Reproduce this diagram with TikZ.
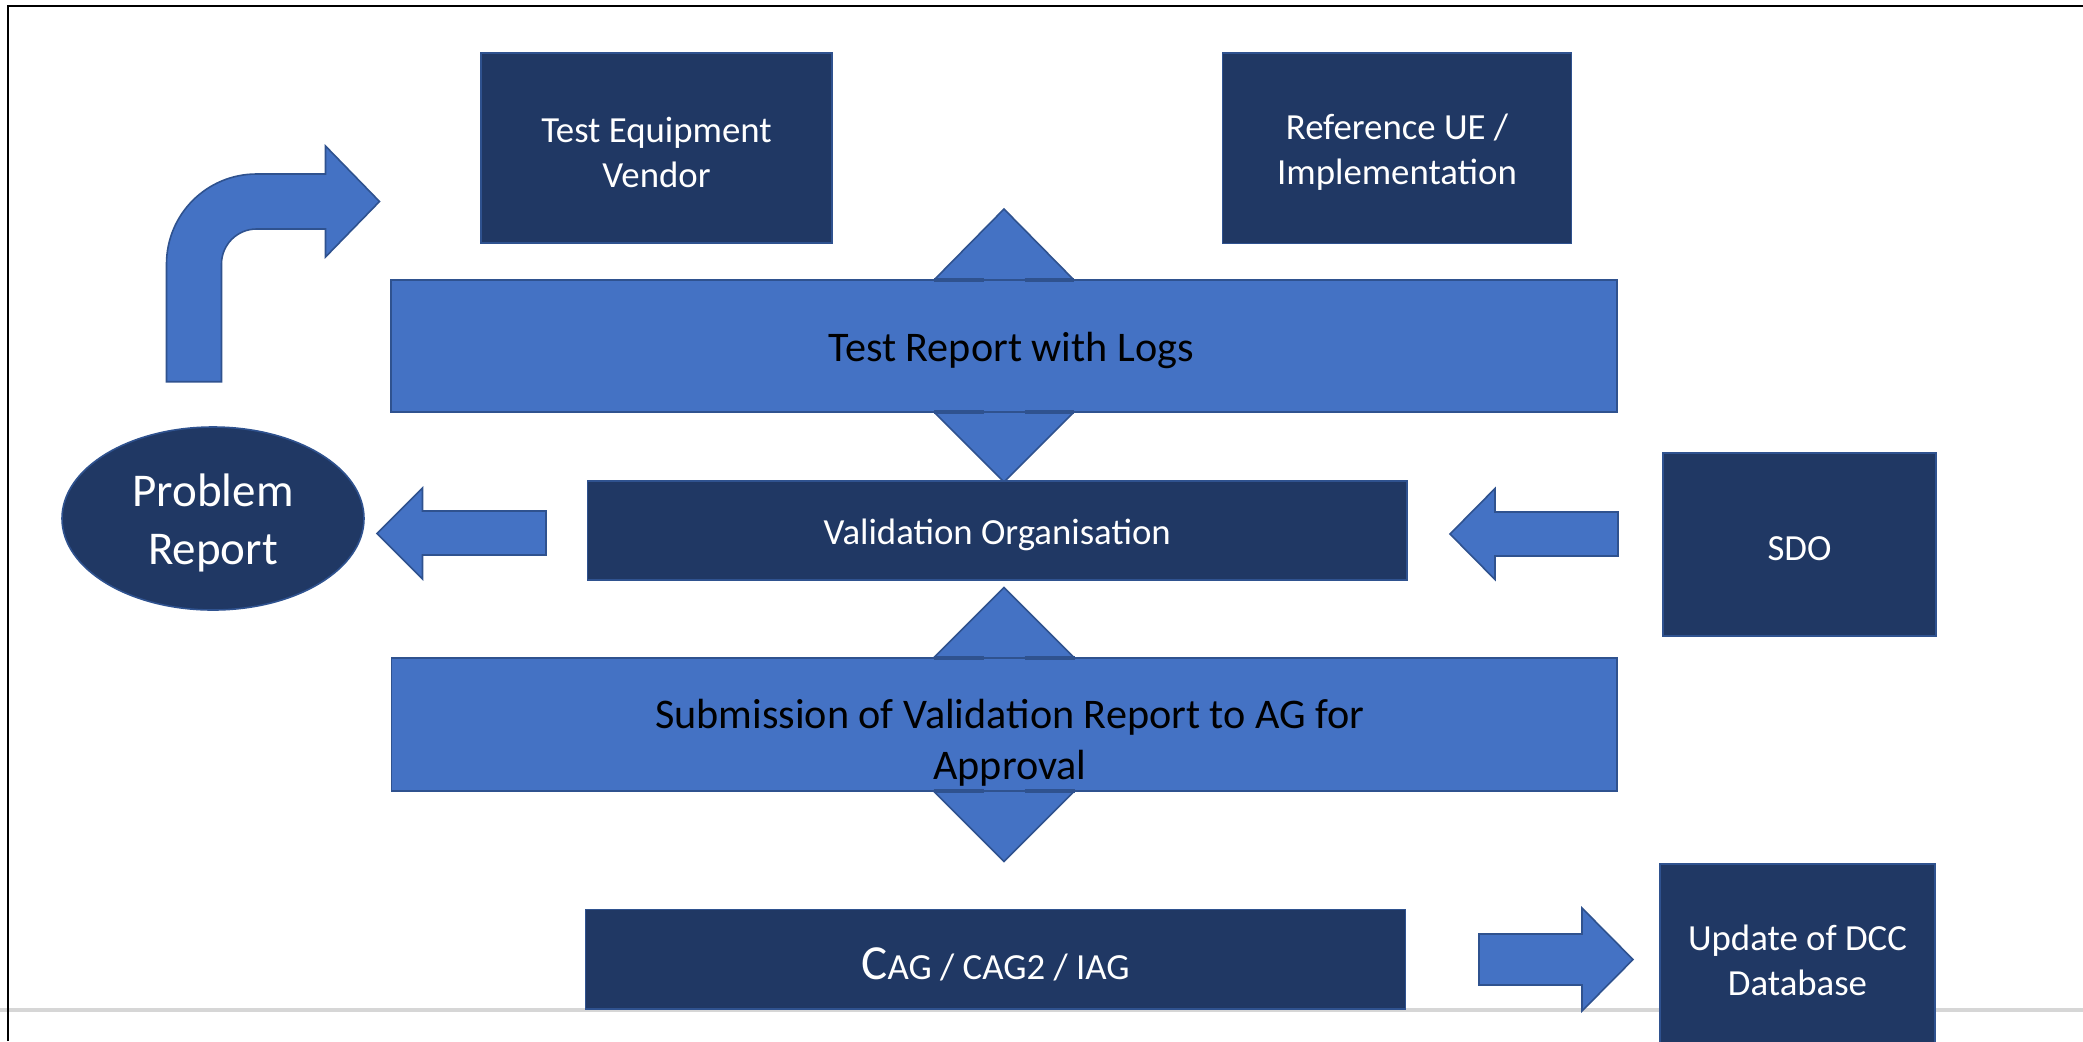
\documentclass[tikz,border=0pt]{standalone}
\usepackage{fontspec}
\setmainfont{Carlito}
\usetikzlibrary{shapes.geometric}
\definecolor{navy}{HTML}{203864}
\definecolor{blk}{HTML}{4472C4}
\definecolor{edge}{HTML}{2F528F}
\definecolor{rule}{HTML}{D6D6D6}
\begin{document}
\begin{tikzpicture}[x=0.5pt,y=-0.5pt,
  darkbox/.style={draw=edge, line width=0.8pt, fill=navy, inner sep=0pt},
  wtext/.style={text=white, inner sep=0pt, align=center, font=\fontsize{18.4}{22.5}\selectfont},
  band/.style={draw=edge, line width=0.8pt, fill=blk, inner sep=0pt},
  bandtext/.style={text=black, inner sep=0pt, align=center, font=\fontsize{21.1}{25.5}\selectfont},
  blockarrow/.style={draw=edge, line width=0.8pt, fill=blk, line join=miter},
  headedge/.style={draw=edge, line width=1.8pt}
]
\useasboundingbox (0,0) rectangle (2083,1041);
\clip (0,0) rectangle (2083,1041);
% footer rule and frame
\draw[rule, line width=2pt] (0,1010) -- (2083,1010);
\draw[black, line width=1.3pt] (8,1041) -- (8,6) -- (2083,6);

% double arrows (behind the bands)
\filldraw[blockarrow] (1004,209) -- (1074,280) -- (1024.5,280) -- (1024.5,412) -- (1074,412) -- (1004,482) -- (934,412) -- (984,412) -- (984,280) -- (934,280) -- cycle;
\filldraw[blockarrow] (1004,587.5) -- (1074.5,658) -- (1024.5,658) -- (1024.5,791) -- (1074.5,791) -- (1004,861.5) -- (933.5,791) -- (983.5,791) -- (983.5,658) -- (933.5,658) -- cycle;

% bands
\node[band, minimum width=613pt, minimum height=66pt] (band1) at (1004,346) {};
\node[band, minimum width=612.75pt, minimum height=66.5pt] (band2) at (1004.25,724.5) {};
\draw[headedge] (934,280) -- (984,280) (1024.5,280) -- (1074,280) (934,412) -- (984,412) (1024.5,412) -- (1074,412);
\draw[headedge] (933.5,658) -- (983.5,658) (1024.5,658) -- (1074.5,658) (933.5,791) -- (983.5,791) (1024.5,791) -- (1074.5,791);
\node[bandtext] (band1txt) at (1011,350) {Test Report with Logs};
\node[bandtext] (band2txt) at (1010,743) {Submission of Validation Report to AG for\\Approval};

% boxes
\node[darkbox, minimum width=175.5pt, minimum height=95pt] (tev) at (656.5,148) {};
\node[darkbox, minimum width=174.5pt, minimum height=95.25pt] (ref) at (1397,148.25) {};
\node[darkbox, minimum width=409.75pt, minimum height=49.5pt] (valid) at (997.25,530.5) {};
\node[darkbox, ellipse, minimum width=151pt, minimum height=91.5pt] (prob) at (213,518.5) {};
\node[darkbox, minimum width=136.5pt, minimum height=91.5pt] (sdo) at (1799.5,544.5) {};
\node[darkbox, minimum width=410pt, minimum height=49.75pt] (cag) at (995.5,959.25) {};
\node[darkbox, minimum width=137.5pt, minimum height=92pt] (upd) at (1797.5,956) {};

\node[wtext] (tevtxt) at ([yshift=-2pt]tev.center) {Test Equipment\\Vendor};
\node[wtext] (reftxt) at ([yshift=-2pt]ref.center) {Reference UE /\\Implementation};
\node[wtext] (validtxt) at ([yshift=-2pt]valid.center) {Validation Organisation};
\node[wtext, font=\fontsize{23.5}{29}\selectfont] (probtxt) at ([yshift=-2pt]prob.center) {Problem\\Report};
\node[wtext] (sdotxt) at ([yshift=-2pt]sdo.center) {SDO};
\node[wtext] (cagtxt) at ([yshift=-2.5pt]cag.center) {{\fontsize{24.5}{29}\selectfont C}AG / CAG2 / IAG};
\node[wtext] (updtxt) at ([yshift=-2pt]upd.center) {Update of DCC\\Database};

% block arrows
\filldraw[blockarrow] (166.5,381.7) -- (166.5,264) arc[start angle=180, end angle=270, radius=90] -- (325.5,174) -- (325.5,146) -- (379.5,201.5) -- (325.5,257) -- (325.5,229) -- (256.5,229) arc[start angle=270, end angle=180, radius=35] -- (221.5,381.7) -- cycle;
\filldraw[blockarrow] (546,511) -- (422.5,511) -- (422.5,488) -- (377,533.5) -- (422.5,579) -- (422.5,555) -- (546,555) -- cycle;
\filldraw[blockarrow] (1618,512) -- (1495,512) -- (1495,488.5) -- (1450,534) -- (1495,579.5) -- (1495,556) -- (1618,556) -- cycle;
\filldraw[blockarrow] (1479,934) -- (1582,934) -- (1582,908) -- (1633,959.5) -- (1582,1011) -- (1582,985) -- (1479,985) -- cycle;
\end{tikzpicture}
\end{document}
